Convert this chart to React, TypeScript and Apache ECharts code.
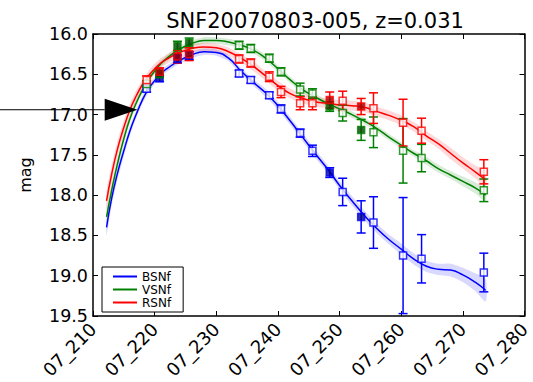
import React, { useEffect, useRef } from "react";
import * as echarts from "echarts";

// Observation epochs (day) shared by the three filters
const obsDays = [218.7, 220.8, 223.7, 225.6, 233.7, 235.6, 238.6, 240.5, 243.6, 245.6, 248.4, 250.5, 253.5, 255.5, 260.3, 263.3, 273.4];
// Photometry (mag) and 1-sigma errors
const bMag = [16.68, 16.55, 16.31, 16.27, 16.49, 16.57, 16.76, 16.93, 17.23, 17.45, 17.72, 17.96, 18.27, 18.34, 18.75, 18.79, 18.96];
const bErr = [0.04, 0.04, 0.05, 0.05, 0.04, 0.04, 0.04, 0.05, 0.05, 0.07, 0.06, 0.17, 0.2, 0.32, 0.72, 0.3, 0.24];
const vMag = [16.62, 16.5, 16.15, 16.11, 16.14, 16.18, 16.3, 16.47, 16.69, 16.74, 16.9, 16.98, 17.19, 17.22, 17.45, 17.54, 17.94];
const vErr = [0.04, 0.04, 0.06, 0.06, 0.05, 0.05, 0.05, 0.05, 0.08, 0.06, 0.06, 0.1, 0.13, 0.19, 0.4, 0.17, 0.14];
const rMag = [16.57, 16.47, 16.28, 16.25, 16.31, 16.36, 16.53, 16.72, 16.86, 16.86, 16.82, 16.83, 16.9, 16.92, 17.1, 17.2, 17.71];
const rErr = [0.05, 0.05, 0.08, 0.08, 0.05, 0.05, 0.06, 0.07, 0.08, 0.08, 0.1, 0.12, 0.1, 0.19, 0.29, 0.155, 0.15];
// Epochs drawn with solid markers
const filledIdx = [1, 2, 3, 10, 12];

// Model light curves and their uncertainty half-widths
const curveDays = [212.2, 213, 214, 215, 216, 217, 218, 219, 220, 221, 222, 224, 226, 228, 230, 232, 234, 236, 238, 240, 242, 244, 246, 248, 250, 252, 254, 256, 258, 260, 262, 264, 266, 268, 270, 272, 273.7];
const bCurve = [18.40, 18.05, 17.72, 17.45, 17.20, 17.00, 16.82, 16.68, 16.58, 16.49, 16.43, 16.33, 16.26, 16.22, 16.23, 16.30, 16.46, 16.60, 16.73, 16.89, 17.08, 17.28, 17.48, 17.67, 17.88, 18.07, 18.25, 18.41, 18.55, 18.67, 18.79, 18.88, 18.92, 18.93, 18.99, 19.08, 19.18];
const vCurve = [18.27, 17.95, 17.60, 17.30, 17.05, 16.86, 16.70, 16.57, 16.46, 16.37, 16.30, 16.19, 16.12, 16.08, 16.08, 16.10, 16.14, 16.20, 16.30, 16.43, 16.57, 16.69, 16.78, 16.86, 16.93, 17.00, 17.08, 17.17, 17.28, 17.38, 17.48, 17.57, 17.67, 17.75, 17.83, 17.91, 18.00];
const rCurve = [18.07, 17.75, 17.42, 17.16, 16.94, 16.77, 16.63, 16.52, 16.43, 16.36, 16.31, 16.23, 16.18, 16.16, 16.17, 16.22, 16.30, 16.40, 16.52, 16.64, 16.74, 16.80, 16.84, 16.86, 16.88, 16.89, 16.91, 16.96, 17.01, 17.07, 17.15, 17.26, 17.36, 17.48, 17.60, 17.71, 17.81];
const bBand = [0.10, 0.09, 0.08, 0.07, 0.06, 0.05, 0.05, 0.05, 0.04, 0.04, 0.04, 0.04, 0.04, 0.04, 0.04, 0.04, 0.04, 0.04, 0.05, 0.05, 0.05, 0.05, 0.05, 0.05, 0.05, 0.06, 0.06, 0.06, 0.06, 0.07, 0.07, 0.07, 0.07, 0.08, 0.09, 0.11, 0.14];
const vBand = [0.09, 0.08, 0.07, 0.06, 0.05, 0.05, 0.04, 0.04, 0.04, 0.04, 0.04, 0.04, 0.04, 0.04, 0.04, 0.04, 0.04, 0.04, 0.04, 0.04, 0.04, 0.04, 0.04, 0.04, 0.04, 0.04, 0.04, 0.04, 0.04, 0.04, 0.04, 0.05, 0.05, 0.05, 0.06, 0.07, 0.08];
const rBand = [0.12, 0.11, 0.10, 0.09, 0.08, 0.07, 0.06, 0.06, 0.06, 0.06, 0.06, 0.06, 0.05, 0.05, 0.05, 0.05, 0.05, 0.06, 0.06, 0.06, 0.06, 0.06, 0.06, 0.06, 0.06, 0.06, 0.06, 0.06, 0.06, 0.06, 0.06, 0.06, 0.06, 0.07, 0.07, 0.08, 0.10];

// Axis ticks
const xMin = 210, xMax = 280, xStep = 10;
const yMin = 16.0, yMax = 19.5, yStep = 0.5;

// Epoch marker arrow
const arrowMag = 16.94;
const arrowBaseDay = 211.9;
const arrowTipDay = 217.2;

const FONT = "DejaVu Sans";

const filters = [
  { name: "BSNf", color: "#0000ff", dark: "#000090", band: "rgba(0,0,255,0.15)", mags: bMag, errs: bErr, curve: bCurve, width: bBand },
  { name: "VSNf", color: "#008000", dark: "#004a00", band: "rgba(0,128,0,0.15)", mags: vMag, errs: vErr, curve: vCurve, width: vBand },
  { name: "RSNf", color: "#ff0000", dark: "#a00000", band: "rgba(255,0,0,0.15)", mags: rMag, errs: rErr, curve: rCurve, width: rBand },
];

export default function App() {
  const ref = useRef<HTMLDivElement>(null);

  useEffect(() => {
    document.body.style.margin = "0";
    if (!ref.current) return;
    const chart = echarts.init(ref.current, undefined, { renderer: "svg" });

    const series: any[] = [];
    filters.forEach((f) => {
      // uncertainty band drawn as one closed polygon around the model curve
      series.push({
        type: "custom",
        name: f.name + "-band",
        z: 1,
        silent: true,
        data: curveDays.map((d, i) => [d, f.curve[i] - f.width[i], f.curve[i] + f.width[i]]),
        encode: { x: 0, y: [1, 2] },
        renderItem: (p: any, api: any) => {
          if (p.dataIndex !== 0) return null;
          const upper = curveDays.map((d, i) => api.coord([d, f.curve[i] - f.width[i]]));
          const lower = curveDays.map((d, i) => api.coord([d, f.curve[i] + f.width[i]])).reverse();
          return {
            type: "polygon",
            shape: { points: upper.concat(lower), smooth: 0.25 },
            style: { fill: f.band, stroke: "none" },
          };
        },
      });
    });
    filters.forEach((f) => {
      series.push({
        type: "line",
        name: f.name,
        smooth: true,
        symbol: "none",
        z: 2,
        lineStyle: { color: f.color, width: 1.5 },
        itemStyle: { color: f.color },
        data: curveDays.map((d, i) => [d, f.curve[i]]),
      });
    });
    filters.forEach((f) => {
      series.push({
        type: "custom",
        name: f.name + "-err",
        z: 3,
        silent: true,
        data: obsDays.map((d, i) => [d, f.mags[i], f.errs[i]]),
        encode: { x: 0, y: 1 },
        renderItem: (_p: any, api: any) => {
          const x = api.value(0), y = api.value(1), e = api.value(2);
          const a = api.coord([x, y - e]);
          const b = api.coord([x, y + e]);
          const cap = 4.5;
          const st = { stroke: f.color, lineWidth: 1.5 };
          return {
            type: "group",
            children: [
              { type: "line", shape: { x1: a[0], y1: a[1], x2: b[0], y2: b[1] }, style: st },
              { type: "line", shape: { x1: a[0] - cap, y1: a[1], x2: a[0] + cap, y2: a[1] }, style: st },
              { type: "line", shape: { x1: b[0] - cap, y1: b[1], x2: b[0] + cap, y2: b[1] }, style: st },
            ],
          };
        },
      });
    });
    filters.forEach((f) => {
      series.push({
        type: "scatter",
        name: f.name + "-obs",
        symbol: "rect",
        symbolSize: 7,
        z: 4,
        silent: true,
        data: obsDays.map((d, i) => ({
          value: [d, f.mags[i]],
          itemStyle: {
            color: filledIdx.includes(i) ? f.dark : "#ffffff",
            borderColor: f.color,
            borderWidth: 1.5,
          },
        })),
      });
    });

    const tick = { inside: true, length: 5, lineStyle: { color: "#000", width: 1 } };
    const line = { show: true, onZero: false, lineStyle: { color: "#000", width: 1.5 } };

    chart.setOption({
      animation: false,
      backgroundColor: "#ffffff",
      title: {
        text: "SNF20070803-005, z=0.031",
        left: 310,
        top: 5,
        textAlign: "center",
        textStyle: { fontFamily: FONT, fontSize: 21, fontWeight: "normal", color: "#000" },
      },
      legend: {
        data: filters.map((f) => ({ name: f.name, icon: "rect" })),
        orient: "vertical",
        left: 102,
        top: 267,
        itemWidth: 24,
        itemHeight: 2,
        itemGap: 0,
        padding: [3, 12, 3, 11],
        borderColor: "#000",
        borderWidth: 1,
        borderRadius: 0,
        backgroundColor: "#ffffff",
        textStyle: { fontFamily: FONT, fontSize: 12, color: "#000", lineHeight: 13 },
      },
      grid: { left: 93, right: 5, top: 34, bottom: 66 },
      xAxis: [
        {
          type: "value",
          min: xMin,
          max: xMax,
          interval: xStep,
          axisLine: line,
          axisTick: tick,
          splitLine: { show: false },
          axisLabel: {
            rotate: 45,
            margin: 10,
            fontFamily: FONT,
            fontSize: 18,
            color: "#000",
            formatter: (v: number) => "07_" + v,
          },
        },
        {
          type: "value",
          position: "top",
          min: xMin,
          max: xMax,
          interval: xStep,
          axisLine: line,
          axisTick: tick,
          splitLine: { show: false },
          axisLabel: { show: false },
        },
      ],
      yAxis: [
        {
          type: "value",
          inverse: true,
          min: yMin,
          max: yMax,
          interval: yStep,
          name: "mag",
          nameLocation: "middle",
          nameRotate: 90,
          nameGap: 60,
          nameTextStyle: { fontFamily: FONT, fontSize: 16, color: "#000" },
          axisLine: line,
          axisTick: tick,
          splitLine: { show: false },
          axisLabel: {
            margin: 5,
            fontFamily: FONT,
            fontSize: 17.5,
            color: "#000",
            formatter: (v: number) => v.toFixed(1),
          },
        },
        {
          type: "value",
          position: "right",
          inverse: true,
          min: yMin,
          max: yMax,
          interval: yStep,
          axisLine: line,
          axisTick: tick,
          splitLine: { show: false },
          axisLabel: { show: false },
        },
      ],
      series,
    });

    // arrow marking the reference epoch, placed through the axes
    const tip = chart.convertToPixel({ xAxisIndex: 0, yAxisIndex: 0 }, [arrowTipDay, arrowMag]) as number[];
    const base = chart.convertToPixel({ xAxisIndex: 0, yAxisIndex: 0 }, [arrowBaseDay, arrowMag]) as number[];
    chart.setOption({
      graphic: [
        {
          type: "line",
          z: 100,
          shape: { x1: 0, y1: tip[1], x2: base[0], y2: tip[1] },
          style: { stroke: "#000", lineWidth: 1 },
        },
        {
          type: "polygon",
          z: 100,
          shape: { points: [[base[0], tip[1] - 11], [base[0], tip[1] + 11], [tip[0], tip[1]]] },
          style: { fill: "#000" },
        },
      ],
    });

    return () => chart.dispose();
  }, []);

  return <div ref={ref} style={{ width: 533, height: 382 }} />;
}
